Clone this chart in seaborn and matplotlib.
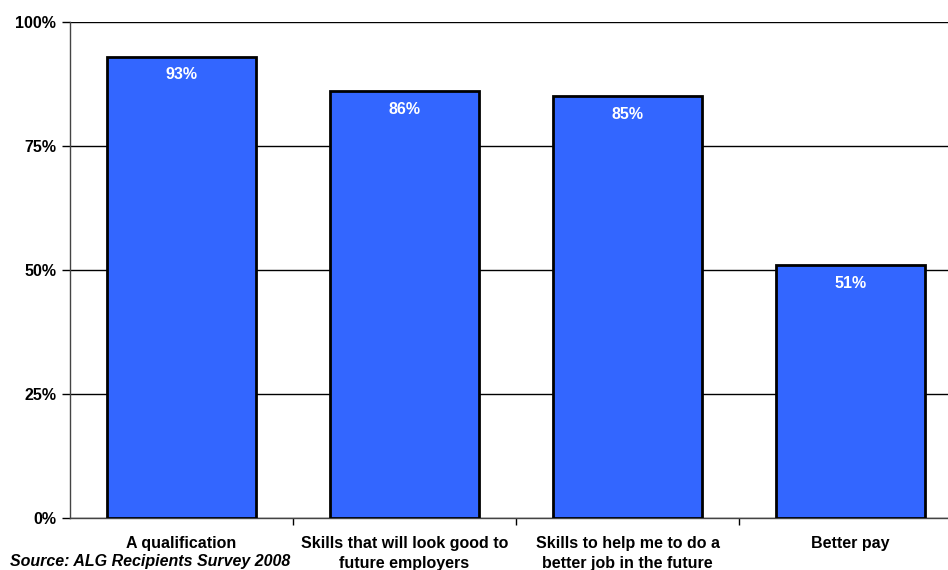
import matplotlib
matplotlib.use("Agg")
import matplotlib.pyplot as plt
import seaborn as sns
import pandas as pd
from matplotlib.ticker import FixedLocator, PercentFormatter

categories = ["A qualification", "Skills that will look good to\nfuture employers",
              "Skills to help me to do a\nbetter job in the future", "Better pay"]
values = [93, 86, 85, 51]
yticks = [0, 25, 50, 75, 100]
source = "Source: ALG Recipients Survey 2008"

sns.set_theme(style="white")
plt.rcParams['font.family'] = ['Liberation Sans', 'DejaVu Sans']
plt.rcParams['text.color'] = 'black'
plt.rcParams['xtick.color'] = 'black'
plt.rcParams['ytick.color'] = 'black'

df = pd.DataFrame({"cat": categories, "val": values})
fig = plt.figure(figsize=(9.48, 5.70), dpi=100)
ax = fig.add_axes([70/948, 1-518/570, (962-70)/948, (518-22)/570])

sns.barplot(data=df, x="cat", y="val", ax=ax, color="#3366FF", width=0.67,
            edgecolor="black", linewidth=2, saturation=1, zorder=3)

ax.set_xlim(-0.5, 3.5)
ax.set_ylim(0, 100)
ax.set_yticks(yticks)
ax.yaxis.set_major_formatter(PercentFormatter(decimals=0))
ax.grid(axis="y", color="black", linewidth=1, zorder=0)
ax.set_axisbelow(True)
ax.set_xlabel("")
ax.set_ylabel("")

for s in ["top", "right"]:
    ax.spines[s].set_visible(False)
for s in ["left", "bottom"]:
    ax.spines[s].set_color("#444444")
    ax.spines[s].set_linewidth(1)

ax.tick_params(axis="y", which="major", left=True, length=6, width=1, color="black",
               labelsize=11.5, pad=4, labelcolor="black")
for lbl in ax.get_yticklabels():
    lbl.set_fontweight("bold")
ax.tick_params(axis="x", which="major", bottom=False, length=0, labelsize=11.5, pad=13,
               labelcolor="black")
for lbl in ax.get_xticklabels():
    lbl.set_fontweight("bold")
    lbl.set_linespacing(1.4)
ax.xaxis.set_minor_locator(FixedLocator([0.5, 1.5, 2.5]))
ax.tick_params(axis="x", which="minor", bottom=True, length=5, width=1, color="black")

for i, v in enumerate(values):
    ax.annotate(f"{v}%", (i, v), xytext=(0, -13), textcoords="offset points",
                ha="center", va="center", color="white", fontweight="bold", fontsize=11.5, zorder=5)

fig.text(10/948, 1-566/570, source, fontsize=11.5, fontweight="bold", fontstyle="italic",
         ha="left", va="baseline", color="black")

fig.savefig("out.png", dpi=100)
